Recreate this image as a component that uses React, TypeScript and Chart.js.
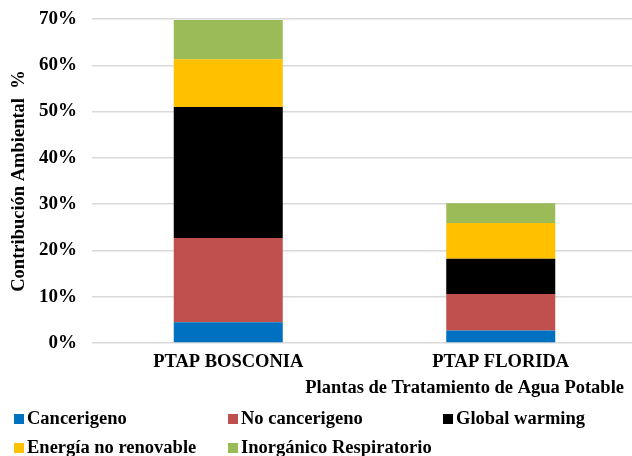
import React, { useEffect, useRef } from "react";
import { Chart, registerables } from "chart.js";

Chart.register(...registerables);

const categories = ["PTAP BOSCONIA", "PTAP FLORIDA"];
const seriesNames = [
  "Cancerigeno",
  "No cancerigeno",
  "Global warming",
  "Energía no renovable",
  "Inorgánico Respiratorio",
];
const cancerigeno = [4.5, 2.7];
const noCancerigeno = [18.2, 7.9];
const globalWarming = [28.3, 7.6];
const energiaNoRenovable = [10.3, 7.7];
const inorganicoRespiratorio = [8.5, 4.3];
const seriesColors = ["#0070C0", "#C0504D", "#000000", "#FFC000", "#9BBB59"];
const yTickMax = 70;
const yTickStep = 10;
const yTitle = "Contribución Ambiental  %";
const xTitle = "Plantas de Tratamiento de Agua Potable";

const FONT = "'Liberation Serif', 'Times New Roman', serif";

const legendPlugin = {
  id: "customLegend",
  afterDraw(chart: any) {
    const ctx = chart.ctx;
    ctx.save();
    ctx.fillStyle = "#000";
    ctx.font = `bold 18.5px ${FONT}`;
    ctx.textAlign = "right";
    ctx.textBaseline = "middle";
    ctx.fillText(xTitle, 624, 388);
    const cols = [14, 228, 443];
    const rows = [419, 448];
    ctx.textAlign = "left";
    chart.data.datasets.forEach((ds: any, i: number) => {
      const x = cols[i % 3];
      const y = rows[Math.floor(i / 3)];
      ctx.fillStyle = ds.backgroundColor;
      ctx.fillRect(x, y - 5, 10, 10);
      ctx.fillStyle = "#000";
      ctx.fillText(ds.label, x + 13, y);
    });
    ctx.restore();
  },
};

export default function App() {
  const ref = useRef<HTMLCanvasElement>(null);
  useEffect(() => {
    document.body.style.margin = "0";
    const values = [
      cancerigeno,
      noCancerigeno,
      globalWarming,
      energiaNoRenovable,
      inorganicoRespiratorio,
    ];
    const chart = new Chart(ref.current!, {
      type: "bar",
      data: {
        labels: categories,
        datasets: values.map((v, i) => ({
          label: seriesNames[i],
          data: v,
          backgroundColor: seriesColors[i],
          borderWidth: 0,
          barPercentage: 0.4,
          categoryPercentage: 1,
        })),
      },
      options: {
        animation: false,
        responsive: false,
        maintainAspectRatio: false,
        layout: { padding: { left: 8, right: 1, top: 19, bottom: 81 } },
        plugins: {
          legend: { display: false },
          tooltip: { enabled: false },
        },
        scales: {
          x: {
            stacked: true,
            grid: { display: false, drawTicks: false },
            border: { display: false },
            afterFit: (s: any) => {
              s.height = 32;
            },
            ticks: {
              color: "#000",
              font: { family: FONT, size: 18.5, weight: "bold" },
              padding: 8,
              maxRotation: 0,
            },
          },
          y: {
            stacked: true,
            min: 0,
            max: yTickMax,
            afterFit: (s: any) => {
              s.width = 84;
              s.paddingTop = 0;
              s.paddingBottom = 0;
            },
            ticks: {
              stepSize: yTickStep,
              color: "#000",
              font: { family: FONT, size: 19, weight: "bold" },
              padding: 15,
              callback: (v: any) => v + "%",
            },
            grid: { color: "#D9D9D9", lineWidth: 1.5, drawTicks: false },
            border: { display: false },
            title: {
              display: true,
              text: yTitle,
              color: "#000",
              font: { family: FONT, size: 18.5, weight: "bold" },
              padding: { top: 0, bottom: 6 },
            },
          },
        },
      },
      plugins: [legendPlugin],
    });
    return () => chart.destroy();
  }, []);
  return (
    <div style={{ position: "fixed", left: 0, top: 0, width: 632, height: 456, overflow: "hidden", background: "#fff" }}>
      <canvas ref={ref} width={638} height={456} style={{ width: 638, height: 456, display: "block" }} />
    </div>
  );
}
